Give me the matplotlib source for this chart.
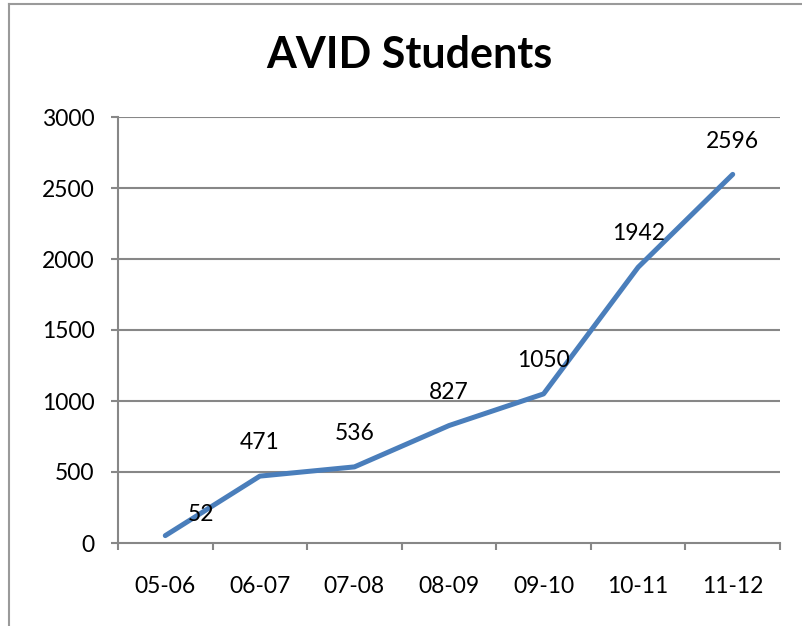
import numpy as np
import matplotlib
matplotlib.use('Agg')
import matplotlib.pyplot as plt
from matplotlib.lines import Line2D

plt.rcParams['font.family'] = ['Lato', 'DejaVu Sans']

years = ['05-06', '06-07', '07-08', '08-09', '09-10', '10-11', '11-12']
students = [52, 471, 536, 827, 1050, 1942, 2596]
yticks = [0, 500, 1000, 1500, 2000, 2500, 3000]

W, H = 803, 626
fig = plt.figure(figsize=(W / 100, H / 100), dpi=100)
ax = fig.add_axes([118 / W, 1 - 543 / H, (780 - 118) / W, (543 - 117) / H])

grid_c = '#878787'
fs = 16.5
x = np.arange(len(years))
ax.plot(x, students, color='#4A7EBB', linewidth=3.6, solid_capstyle='round',
        solid_joinstyle='round', zorder=3)

# data labels, the first one sits to the right as in the original
for i, v in enumerate(students):
    if i == 0:
        off = (26, 15)
    else:
        off = (0, 24)
    ax.annotate(str(v), (i, v), xytext=off, textcoords='offset points',
                ha='center', va='center', fontsize=fs, color='black', zorder=4)

ax.set_xlim(-0.5, len(years) - 0.5)
ax.set_ylim(0, 3000)
ax.set_yticks(yticks)
ax.set_yticklabels([str(t) for t in yticks], fontsize=fs)
ax.set_xticks(x)
ax.set_xticklabels(years, fontsize=fs)
ax.set_xticks(np.arange(-0.5, len(years)), minor=True)
ax.tick_params(axis='x', which='major', length=0, pad=24)
ax.tick_params(axis='x', which='minor', length=5, width=1.5, color=grid_c, direction='out')
ax.tick_params(axis='y', length=5, width=1.5, color=grid_c, direction='out', pad=12)

for t in yticks[1:]:
    ax.axhline(t, color=grid_c, linewidth=1.5, zorder=1)
for s in ['top', 'right']:
    ax.spines[s].set_visible(False)
for s in ['left', 'bottom']:
    ax.spines[s].set_color(grid_c)
    ax.spines[s].set_linewidth(1.5)

fig.text(409 / W, 1 - 55 / H, 'AVID Students', ha='center', va='center',
         fontsize=31, fontweight='bold')

# chart border (left and top edges show)
fig.add_artist(Line2D([9 / W, 9 / W], [0, 1 - 4 / H], color='#9a9a9a', linewidth=1.5,
                      transform=fig.transFigure))
fig.add_artist(Line2D([9 / W, 1], [1 - 4 / H, 1 - 4 / H], color='#9a9a9a', linewidth=1.5,
                      transform=fig.transFigure))

fig.savefig('out.png', dpi=100)
